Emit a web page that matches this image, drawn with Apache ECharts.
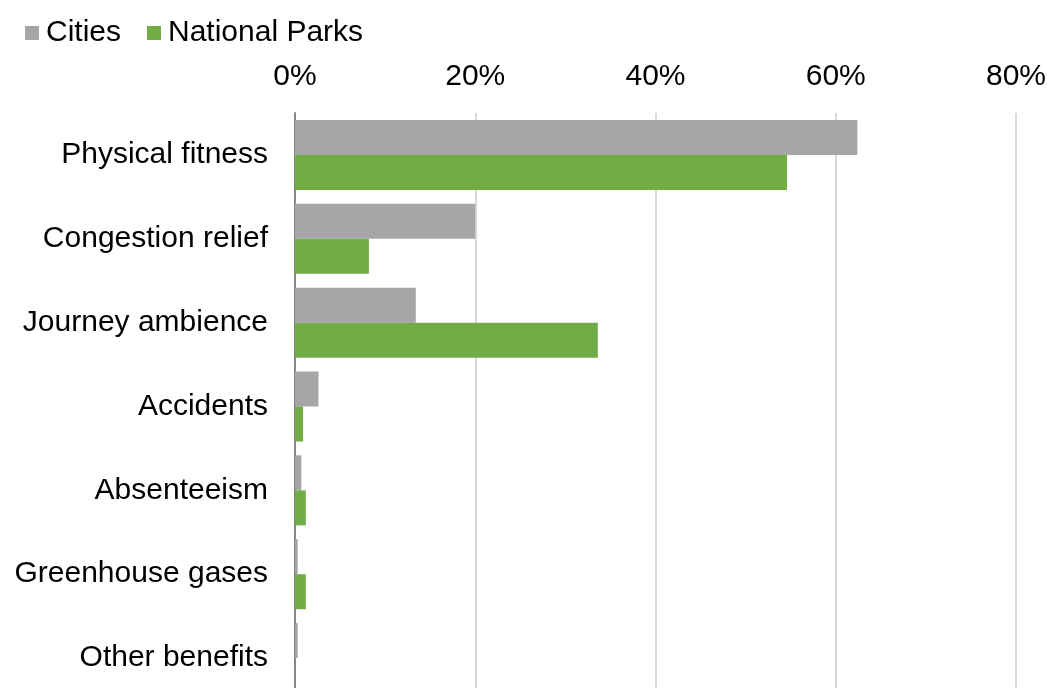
<!DOCTYPE html>
<html>
<head>
<meta charset="utf-8">
<script src="https://cdn.jsdelivr.net/npm/echarts@6/dist/echarts.min.js"></script>
<style>
  html, body { margin: 0; padding: 0; background: #fff; }
  #chart { width: 1047px; height: 688px; }
</style>
</head>
<body>
<div id="chart"></div>
<script>
// 类别和数据
var categories = ['Physical fitness', 'Congestion relief', 'Journey ambience', 'Accidents',
  'Absenteeism', 'Greenhouse gases', 'Other benefits'];
var cities = [62.4, 20.0, 13.4, 2.6, 0.7, 0.3, 0.3];
var nationalParks = [54.6, 8.2, 33.6, 0.9, 1.2, 1.2, 0];
var tickValues = [0, 20, 40, 60, 80];

var font = 'Liberation Sans, Arial, sans-serif';

var option = {
  animation: false,
  color: ['#a6a6a6', '#70ad47'],
  legend: {
    left: 20,
    top: 13,
    itemWidth: 14,
    itemHeight: 14,
    itemGap: 26,
    icon: 'rect',
    textStyle: { fontFamily: font, fontSize: 30, color: '#000', padding: [0, 0, 0, 2] },
    data: ['Cities', 'National Parks']
  },
  grid: {
    left: 295,
    right: 31,
    top: 113,
    height: 587,
    outerBoundsMode: 'none',
    containLabel: false
  },
  xAxis: {
    type: 'value',
    position: 'top',
    min: 0,
    max: 80,
    interval: 20,
    axisLine: { show: false },
    axisTick: { show: false },
    axisLabel: {
      fontFamily: font,
      fontSize: 30,
      color: '#000',
      margin: 21,
      formatter: function (v) { return tickValues.indexOf(v) >= 0 ? v + '%' : ''; }
    },
    splitLine: { lineStyle: { color: '#d9d9d9', width: 2 } }
  },
  yAxis: {
    type: 'category',
    inverse: true,
    data: categories,
    axisLine: { lineStyle: { color: '#868686', width: 2 } },
    axisTick: { show: false },
    axisLabel: { fontFamily: font, fontSize: 30, color: '#000', margin: 27 }
  },
  series: [
    {
      name: 'Cities',
      type: 'bar',
      barGap: 0,
      barCategoryGap: '16.5%',
      data: cities
    },
    {
      name: 'National Parks',
      type: 'bar',
      barGap: 0,
      barCategoryGap: '16.5%',
      data: nationalParks
    }
  ]
};

var myChart = echarts.init(document.getElementById('chart'));
myChart.setOption(option);
</script>
</body>
</html>
